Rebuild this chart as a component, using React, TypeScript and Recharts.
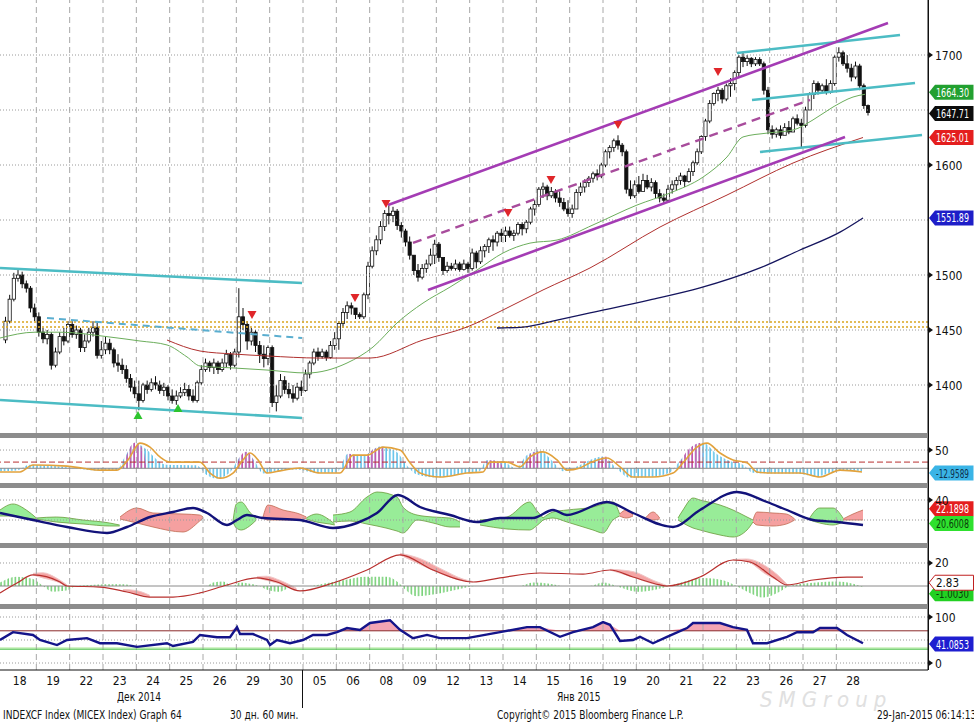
import React from 'react';
import {
  Area,
  Bar,
  ComposedChart,
  Line,
  ReferenceArea,
  ReferenceDot,
  ReferenceLine,
  XAxis,
  YAxis,
} from 'recharts';

// ---- layout ----
const CHART_W = 974;
const AXIS_W = 46;
const FONT = '"DejaVu Sans Condensed", "DejaVu Sans", sans-serif';
const X_DOMAIN: [number, number] = [-0.09, 27.75]; // x in trading days
const M0 = { top: 0, right: 0, bottom: 0, left: 0 };

// ---- axis labels ----
const dayLabels = [
  '18', '19', '22', '23', '24', '25', '26', '29', '30',
  '05', '06', '08', '09', '12', '13', '14', '15', '16', '19', '20', '21', '22', '23', '26', '27', '28',
];
const priceGrid = [1400, 1450, 1500, 1550, 1600, 1650, 1700];
const priceLabels = [1400, 1450, 1500, 1600, 1700];

// ---- hourly candles, 8 per day; open = previous close ----
const firstOpen = 1441;
const closes = [
  1458, 1478, 1497, 1500, 1492, 1488, 1470, 1462,
  1448, 1442, 1446, 1418, 1430, 1444, 1440, 1455,
  1446, 1450, 1434, 1440, 1448, 1452, 1427, 1432,
  1438, 1432, 1420, 1418, 1414, 1406, 1398, 1392,
  1386, 1400, 1396, 1402, 1400, 1395, 1398, 1390,
  1386, 1390, 1393, 1396, 1390, 1386, 1402, 1414,
  1420, 1416, 1420, 1414, 1420, 1428, 1418, 1430,
  1462, 1455, 1440, 1448, 1436, 1428, 1424, 1434,
  1384, 1390, 1404, 1396, 1392, 1388, 1398, 1395,
  1410, 1420, 1430, 1426, 1430, 1425, 1436, 1442,
  1456, 1466, 1472, 1470, 1464, 1462, 1482, 1508,
  1522, 1532, 1544, 1556, 1554, 1558, 1545, 1540,
  1530, 1518, 1504, 1498, 1506, 1510, 1518, 1528,
  1516, 1504, 1508, 1506, 1510, 1505, 1510, 1506,
  1520, 1512, 1522, 1526, 1532, 1530, 1538, 1536,
  1540, 1536, 1538, 1546, 1542, 1548, 1560, 1564,
  1578, 1580, 1572, 1576, 1570, 1566, 1560, 1556,
  1560, 1575, 1580, 1584, 1588, 1592, 1590, 1600,
  1612, 1616, 1622, 1618, 1612, 1578, 1572, 1582,
  1576, 1586, 1580, 1584, 1574, 1570, 1568, 1578,
  1582, 1586, 1590, 1585, 1594, 1602, 1612, 1626,
  1640, 1656, 1665, 1668, 1660, 1672, 1674, 1684,
  1698, 1694, 1697, 1692, 1696, 1692, 1668, 1632,
  1628, 1632, 1627, 1634, 1630, 1642, 1638, 1636,
  1650, 1664, 1674, 1668, 1672, 1666, 1674, 1698,
  1702, 1692, 1688, 1680, 1690, 1672, 1654, 1647.71,
];
const highs = [
  1462, 1482, 1502, 1506, 1503, 1495, 1490, 1474,
  1466, 1452, 1450, 1448, 1434, 1448, 1452, 1458,
  1458, 1454, 1452, 1446, 1452, 1458, 1458, 1440,
  1444, 1442, 1434, 1428, 1424, 1418, 1410, 1404,
  1404, 1402, 1404, 1406, 1408, 1404, 1402, 1400,
  1396, 1395, 1398, 1402, 1400, 1396, 1404, 1418,
  1424, 1422, 1424, 1422, 1424, 1432, 1430, 1433,
  1488, 1470, 1458, 1452, 1450, 1440, 1436, 1436,
  1436, 1400, 1410, 1408, 1402, 1400, 1402, 1404,
  1414, 1422, 1433, 1434, 1433, 1432, 1440, 1448,
  1458, 1470, 1476, 1475, 1470, 1466, 1484, 1512,
  1526, 1536, 1549, 1559, 1563, 1562, 1560, 1548,
  1542, 1535, 1518, 1510, 1510, 1514, 1524, 1532,
  1530, 1516, 1512, 1511, 1514, 1512, 1514, 1512,
  1524, 1522, 1526, 1528, 1534, 1536, 1540, 1542,
  1544, 1544, 1541, 1548, 1548, 1550, 1562, 1568,
  1580, 1584, 1582, 1580, 1578, 1576, 1570, 1568,
  1564, 1578, 1584, 1587, 1590, 1594, 1596, 1602,
  1614, 1618, 1624, 1627, 1620, 1614, 1586, 1586,
  1590, 1592, 1591, 1588, 1586, 1578, 1574, 1582,
  1586, 1589, 1593, 1591, 1597, 1604, 1615, 1627,
  1642, 1659, 1666, 1671, 1670, 1674, 1679, 1686,
  1700, 1703, 1700, 1698, 1698, 1698, 1694, 1671,
  1636, 1634, 1636, 1638, 1640, 1644, 1646, 1642,
  1653, 1666, 1677, 1676, 1674, 1678, 1677, 1700,
  1707, 1704, 1700, 1692, 1694, 1692, 1674, 1655,
];
const lows = [
  1438, 1456, 1476, 1494, 1488, 1484, 1466, 1458,
  1444, 1438, 1437, 1414, 1416, 1428, 1436, 1438,
  1443, 1442, 1430, 1430, 1438, 1444, 1424, 1424,
  1428, 1428, 1416, 1412, 1410, 1402, 1394, 1388,
  1377, 1384, 1392, 1394, 1396, 1392, 1390, 1386,
  1383, 1382, 1388, 1390, 1386, 1384, 1384, 1400,
  1412, 1412, 1410, 1410, 1412, 1416, 1414, 1416,
  1425, 1450, 1432, 1436, 1430, 1420, 1416, 1418,
  1380, 1376, 1388, 1392, 1388, 1384, 1386, 1390,
  1394, 1406, 1418, 1422, 1424, 1422, 1424, 1432,
  1432, 1452, 1460, 1464, 1460, 1460, 1460, 1478,
  1506, 1518, 1528, 1540, 1546, 1548, 1541, 1534,
  1526, 1514, 1500, 1494, 1496, 1502, 1508, 1510,
  1512, 1500, 1502, 1504, 1504, 1503, 1504, 1502,
  1504, 1506, 1510, 1516, 1520, 1522, 1526, 1530,
  1530, 1534, 1531, 1536, 1536, 1538, 1546, 1554,
  1562, 1570, 1568, 1570, 1566, 1562, 1558, 1553,
  1552, 1560, 1572, 1575, 1580, 1584, 1586, 1588,
  1598, 1606, 1612, 1614, 1608, 1574, 1569, 1570,
  1574, 1578, 1578, 1576, 1570, 1566, 1565, 1566,
  1574, 1577, 1582, 1580, 1584, 1590, 1600, 1610,
  1622, 1638, 1654, 1658, 1656, 1658, 1662, 1668,
  1680, 1689, 1690, 1689, 1690, 1690, 1664, 1628,
  1624, 1625, 1624, 1628, 1628, 1630, 1636, 1616,
  1634, 1650, 1660, 1664, 1666, 1664, 1665, 1672,
  1694, 1690, 1684, 1676, 1678, 1668, 1651, 1645,
];

// ---- moving averages [day, price] ----
const maGreen = [
  [-0.09, 1442.7], [0.96, 1448], [1.71, 1448], [3.21, 1443.6], [4.11, 1440], [4.92, 1436.4],
  [5.52, 1425.5], [5.91, 1417.3], [6.9, 1415.5], [7.92, 1413.6], [9.12, 1410.9], [10.32, 1420],
  [11.1, 1434.5], [11.82, 1456.4], [12.6, 1474.5], [13.41, 1489], [14.22, 1504.5], [15, 1520],
  [15.81, 1529], [16.62, 1531.8], [17.7, 1545.5], [19.02, 1563.6], [20.01, 1574.5], [21, 1589],
  [21.72, 1607.3], [22.2, 1625.5], [22.92, 1629], [23.7, 1631.8], [24.3, 1641], [24.9, 1652.7],
  [25.5, 1661.8], [25.86, 1664.3],
];
const maRed = [
  [4.92, 1440.9], [5.91, 1430.9], [6.9, 1428.2], [7.92, 1426.4], [9.51, 1424.5], [11.01, 1424.5],
  [12.6, 1440.9], [13.92, 1452.7], [15, 1468.2], [16.2, 1486.4], [17.61, 1506.4], [19.71, 1543.6],
  [21.72, 1572.7], [23.7, 1601.8], [25.8, 1625],
];
const maNavy = [
  [14.82, 1451.8], [15.6, 1452.7], [16.62, 1459], [17.61, 1465.5], [19.41, 1477.3], [20.91, 1488.2],
  [22.71, 1506.4], [23.91, 1522.7], [25.11, 1539], [25.8, 1551.9],
];

// ---- drawn trend lines [[day, price], [day, price]] ----
const cyanLines = [
  [[-0.09, 1506.4], [8.97, 1492.7]],
  [[-0.09, 1386.4], [8.97, 1370]],
  [[22.02, 1701.8], [26.91, 1718.2]],
  [[22.47, 1659.1], [27.36, 1674.5]],
  [[22.71, 1611.8], [27.57, 1627.3]],
];
const cyanDashedLines = [[[1.32, 1460.9], [8.97, 1442.7]]];
const purpleLines = [
  [[11.55, 1563.6], [26.55, 1729.1]],
  [[12.75, 1486.4], [25.26, 1625.5]],
];
const purpleDashedLines = [[[12.3, 1529.1], [24.21, 1659.1]]];
const levelLines = [1457.3, 1452.7];

// ---- signal markers [day, price] ----
const sellMarks = [
  [7.47, 1463.6], [10.56, 1479.1], [11.49, 1564.5], [15.15, 1556.4],
  [16.44, 1586.4], [18.45, 1636.4], [21.45, 1684.5],
];
const buyMarks = [[4.05, 1372.7], [5.25, 1379.1]];

// ---- panel 2: oscillator ----
const oscLine = [
  [-0.09, -10], [0.51, -10], [0.9, 9], [1.92, 6], [2.4, 0], [2.91, -5], [3.42, -5], [3.75, 23],
  [4.11, 69], [4.41, 58], [4.71, 31], [5.01, 17], [5.91, 17], [6.21, -13], [6.51, -27], [6.9, -13],
  [7.2, 23], [7.41, 42], [7.65, 23], [7.92, -13], [8.31, -7], [8.91, 1], [9.51, -13], [10.11, -13],
  [10.5, 36], [10.92, 36], [11.4, 58], [11.91, 50], [12.21, 15], [12.51, -13], [13.11, -24],
  [13.92, -13], [14.4, -10], [14.61, 17], [15.12, 17], [15.51, 4], [15.81, 31], [16.2, 45],
  [16.62, 23], [16.92, -5], [17.31, 1], [17.61, 15], [18.12, 28], [18.51, 4], [18.9, -24],
  [19.5, -24], [20.1, -13], [20.4, 15], [20.82, 58], [21.12, 69], [21.51, 42], [21.9, 23],
  [22.32, 15], [22.62, -10], [23.1, -13], [23.91, -13], [24.51, -24], [25.11, -5], [25.77, -10],
];
const oscHist = [
  [-0.09, -8], [0.4, -6], [0.8, 10], [1.8, 4], [2.3, -2], [2.8, -6], [3.4, -6], [3.65, 30],
  [3.95, 70], [4.3, 52], [4.6, 25], [4.9, 10], [5.8, 8], [6.1, -18], [6.4, -28], [6.8, -12],
  [7.1, 30], [7.3, 45], [7.55, 20], [7.8, -14], [8.2, -8], [8.8, -3], [9.4, -12], [10, -12],
  [10.35, 40], [10.8, 35], [11.3, 60], [11.8, 45], [12.1, 10], [12.4, -16], [13, -25], [13.8, -14],
  [14.3, -8], [14.5, 22], [15, 18], [15.4, 0], [15.7, 35], [16.1, 48], [16.5, 18], [16.8, -8],
  [17.2, 4], [17.5, 18], [18, 32], [18.4, 0], [18.8, -26], [19.4, -24], [20, -12], [20.3, 20],
  [20.7, 62], [21, 70], [21.4, 40], [21.8, 20], [22.2, 10], [22.5, -12], [23, -14], [23.8, -14],
  [24.4, -22], [25, -8], [25.5, -6], [25.77, -8],
];
const oscPink = [
  [[3.6, 0], [3.7, 32], [3.95, 70], [4.2, 52], [4.3, 0]],
  [[6.98, 0], [7.1, 30], [7.3, 45], [7.5, 24], [7.56, 0]],
  [[10.28, 0], [10.35, 40], [10.55, 34], [10.6, 0]],
  [[10.85, 0], [10.95, 38], [11.2, 55], [11.4, 58], [11.45, 0]],
  [[14.5, 0], [14.55, 22], [14.9, 18], [15, 0]],
  [[15.68, 0], [15.75, 34], [16.05, 46], [16.1, 0]],
  [[17.8, 0], [17.9, 26], [18.1, 32], [18.18, 0]],
  [[20.25, 0], [20.35, 22], [20.7, 62], [20.95, 70], [21, 0]],
];

// ---- panel 3: directional lines and cloud [day, low, high] ----
const dirLine = [
  [-0.09, 27], [0.9, 20], [1.92, 13], [3.12, 7], [3.72, 13], [4.41, 23], [5.1, 28], [5.7, 32],
  [6.12, 27], [6.72, 15], [7.02, 20], [7.32, 25], [7.8, 22], [8.91, 20], [9.9, 12], [10.62, 17],
  [11.22, 27], [11.85, 45], [12.51, 33], [13.41, 25], [14.22, 18], [14.91, 22], [15.9, 22],
  [16.5, 30], [16.92, 25], [18.12, 38], [18.9, 27], [20.1, 13], [20.91, 30], [22.02, 48],
  [22.92, 38], [23.52, 30], [24.3, 20], [25.02, 18], [25.8, 15],
];
const cloudGreen = [
  [[-0.09, 24, 30], [0.3, 24, 36], [0.7, 22, 30], [1, 21, 22]],
  [[1, 21, 22], [1.6, 18, 23], [2.4, 16, 20], [3.2, 14, 17], [3.5, 14, 15]],
  [[6.9, 18, 19], [7, 12, 36], [7.15, 10, 38], [7.4, 14, 28], [7.6, 20, 21]],
  [[9.1, 21, 22], [9.4, 18, 26], [9.8, 16, 20], [9.95, 15, 16]],
  [[9.9, 18, 25], [10.41, 19, 28], [10.92, 16, 43], [11.22, 14, 48], [11.82, 9, 43], [12, 7, 33],
    [12.42, 20, 25], [12.9, 17, 23], [13.41, 13, 22], [13.71, 13, 18]],
  [[14.31, 15, 20], [15.12, 11, 23], [15.8, 10, 38], [16, 14, 30], [16.2, 20, 22]],
  [[16.2, 20, 22], [16.5, 22, 28], [16.92, 18, 30], [17.7, 10, 33], [18, 7, 36], [18.3, 20, 38], [18.5, 24, 26]],
  [[20.25, 20, 22], [20.4, 17, 30], [20.7, 12, 42], [20.91, 10, 40], [21.51, 5, 35], [21.9, 3, 30],
    [22.32, 10, 23], [22.5, 18, 20]],
  [[24.2, 20, 22], [24.5, 17, 32], [24.9, 15, 32], [25.2, 18, 22]],
];
const cloudRed = [
  [[3.51, 21, 23], [4.02, 17, 32], [4.5, 13, 27], [5.4, 8, 26], [5.9, 19, 25], [6, 22, 23]],
  [[7.8, 22, 23], [7.95, 20, 35], [8.4, 20, 30], [8.9, 20, 26], [9.1, 22, 23]],
  [[18.5, 24, 26], [18.7, 22, 30], [18.9, 24, 25]],
  [[19.3, 22, 23], [19.5, 20, 28], [19.7, 21, 22]],
  [[22.5, 18, 20], [22.62, 15, 28], [23.1, 14, 27], [23.5, 16, 26], [23.75, 20, 21]],
  [[25.2, 20, 21], [25.5, 20, 26], [25.8, 20, 30]],
];

// ---- panel 4: trend oscillator ----
const trendLine = [
  [-0.09, -6], [0.42, 2.6], [0.9, 9.6], [1.71, 3.5], [1.92, 0], [2.91, -0.9], [3.72, -5.2],
  [4.41, -9.6], [5.1, -9.6], [5.91, -6], [6.72, 0.9], [7.62, 7], [8.22, 3.5], [8.91, -4.3],
  [9.9, 2.6], [10.92, 13.9], [11.91, 27], [12.9, 13.9], [14.1, 3.5], [14.91, 7], [16.11, 11.3],
  [17.4, 10.4], [18.21, 13.9], [18.9, 7.8], [19.71, 0.9], [19.92, 0], [20.91, 7.8], [21.9, 22.6],
  [22.41, 20.9], [23.1, 7.8], [23.52, 0.9], [24.3, 5.2], [25.32, 7.8], [25.8, 7.8],
];
const trendPink = [
  [[0.9, 9.6, 11], [1.2, 7, 11.5], [1.6, 4, 7], [1.92, 0, 1]],
  [[3.6, -4, -3], [4, -7, -4], [4.4, -9.6, -8]],
  [[7.62, 7, 8], [7.9, 5, 8.5], [8.3, 2, 5], [8.8, -3, -2]],
  [[11.91, 27, 28.5], [12.5, 19, 24], [13.2, 10, 14], [13.8, 4.5, 6], [14.1, 3.5, 3.8]],
  [[18.21, 13.9, 14.5], [18.9, 7.8, 12.5], [19.5, 2, 5], [19.9, 0, 0.5]],
  [[21.9, 22.6, 23], [22.3, 21.5, 23.5], [22.9, 10, 17], [23.3, 4, 8], [23.52, 0.9, 1.5]],
];
const trendHist = [
  [-0.09, 3], [0.4, 8], [0.9, 6], [1.2, 0], [1.5, -5], [1.9, -4], [2.2, 0], [3.3, 1.5], [3.6, 1.5],
  [4, 0], [6.1, 0], [6.3, 3], [6.6, 4], [6.9, 0], [7.1, 3], [7.4, 2], [7.7, 0], [7.9, -3], [8.3, -5],
  [8.7, 0], [9.2, 0], [9.6, 2], [10.2, 5], [10.9, 8], [11.5, 8], [11.9, 2], [12.1, -4], [12.4, -9],
  [13, -7], [13.8, -2], [14.2, 0], [15.5, 0], [15.9, 3], [16.4, 2], [16.8, 0], [17.6, 0], [18, 3],
  [18.4, 0], [18.6, -2], [19, -5], [19.6, -3], [20, 0], [20.6, 5], [21, 7], [21.6, 5], [22, 0],
  [22.4, -6], [22.8, -10], [23.3, -5], [23.6, 0], [24.4, 3], [25, 4], [25.5, 2], [25.8, -1],
];

// ---- panel 5: RSI ----
const rsi = [
  [-0.09, 50], [0.3, 67], [0.9, 61], [1.11, 50], [1.62, 39], [1.92, 50], [2.52, 54], [2.91, 43],
  [3.42, 43], [4.02, 35], [4.92, 43], [5.1, 37], [5.7, 46], [5.91, 61], [6.42, 56], [6.81, 56],
  [7.02, 78], [7.11, 63], [7.5, 63], [7.92, 50], [8.01, 39], [8.22, 50], [8.61, 43], [9, 50],
  [9.3, 61], [9.72, 61], [10.02, 67], [10.32, 76], [10.71, 72], [11.01, 87], [11.61, 93],
  [11.91, 72], [12.3, 54], [12.72, 61], [13.11, 54], [13.92, 54], [14.91, 67], [15.72, 78],
  [16.11, 78], [16.71, 57], [17.1, 67], [17.7, 78], [18, 89], [18.21, 83], [18.51, 48], [18.9, 50],
  [19.11, 57], [19.5, 43], [19.92, 57], [20.52, 76], [20.7, 87], [21.51, 87], [21.9, 78],
  [22.32, 72], [22.5, 43], [22.92, 43], [23.52, 57], [23.82, 67], [24.3, 67], [24.51, 76],
  [25.02, 76], [25.32, 61], [25.8, 43],
];

// ---------------------------------------------------------------

const candles = closes.map((c, i) => ({
  d: Math.floor(i / 8) + ((i % 8) + 0.5) / 8,
  o: i === 0 ? firstOpen : closes[i - 1],
  h: highs[i],
  l: lows[i],
  c,
  range: [lows[i], highs[i]],
}));

// merge several [day, value] or [day, low, high] lists into one row table
function mergeSeries(series: Record<string, number[][]>) {
  const rows: Record<string, any>[] = [];
  Object.entries(series).forEach(([key, pts]) =>
    pts.forEach((p) => rows.push({ d: p[0], [key]: p.length > 2 ? [p[1], p[2]] : p[1] })),
  );
  return rows.sort((a, b) => a.d - b.d);
}
const segFields = (prefix: string, segs: number[][][]) =>
  Object.fromEntries(segs.map((s, i) => [`${prefix}${i}`, s]));

const mainRows = mergeSeries({ maGreen, maRed, maNavy });
const p2Rows = mergeSeries({ osc: oscLine, hist: oscHist, ...segFields('pk', oscPink) });
const p3Rows = mergeSeries({ dir: dirLine, ...segFields('g', cloudGreen), ...segFields('r', cloudRed) });
const p4Rows = mergeSeries({ trend: trendLine, hist: trendHist, ...segFields('pk', trendPink) });
const p5Rows = mergeSeries({ rsi, rsiHi: rsi.map(([d, v]) => [d, 70, Math.max(v, 70)]) });

function Candle(props: any) {
  const { x, y, width, height, payload } = props;
  if (!payload || payload.o == null || !isFinite(y) || !isFinite(height)) return null;
  const { o, h, l, c } = payload;
  const cx = x + width / 2;
  const top = Math.min(y, y + height);
  const bot = Math.max(y, y + height);
  const py = (v: number) => top + ((h - v) / (h - l || 1)) * (bot - top);
  const bTop = py(Math.max(o, c));
  const bBot = py(Math.min(o, c));
  const up = c >= o;
  return (
    <g>
      <line x1={cx} x2={cx} y1={top} y2={bot} stroke="#111" strokeWidth={1} />
      <rect
        x={cx - 1.6}
        y={bTop}
        width={3.2}
        height={Math.max(bBot - bTop, 1)}
        fill={up ? '#fff' : '#111'}
        stroke="#111"
        strokeWidth={0.8}
      />
    </g>
  );
}

const TriDown = (p: any) => (
  <path d={`M${p.cx - 4.5} ${p.cy - 4} L${p.cx + 4.5} ${p.cy - 4} L${p.cx} ${p.cy + 4} Z`} fill="#e0262a" />
);
const TriUp = (p: any) => (
  <path d={`M${p.cx - 4.5} ${p.cy + 4} L${p.cx + 4.5} ${p.cy + 4} L${p.cx} ${p.cy - 4} Z`} fill="#2ec42e" />
);

// price tag on the right axis
const tagShape = (text: string, bg: string, fg: string, dy = 0, border = 'none') => (p: any) => {
  const x = p.cx + 1;
  const y = p.cy + dy;
  const fit = text.length > 4 ? { textLength: 33, lengthAdjust: 'spacingAndGlyphs' as const } : {};
  return (
    <g>
      <path
        d={`M${x} ${y} L${x + 6} ${y - 7.5} L${CHART_W - 0.5} ${y - 7.5} L${CHART_W - 0.5} ${y + 7.5} L${x + 6} ${y + 7.5} Z`}
        fill={bg}
        stroke={border}
      />
      <text x={x + 7} y={y + 4.5} fill={fg} fontSize={11.5} fontFamily={FONT} {...fit}>
        {text}
      </text>
    </g>
  );
};

const YTick = (props: any) => {
  const { x, y, payload } = props;
  return (
    <g>
      <path d={`M${x} ${y - 3.5} L${x + 5} ${y} L${x} ${y + 3.5} Z`} fill="#111" />
      <text x={x + 7} y={y + 4.5} fontSize={12} fill="#111" fontFamily={FONT}>
        {payload.value}
      </text>
    </g>
  );
};

const XTick = (props: any) => {
  const { x, y, payload } = props;
  return (
    <text x={x} y={y + 15} textAnchor="middle" fontSize={12} fill="#111" fontFamily={FONT}>
      {dayLabels[Math.floor(payload.value)]}
    </text>
  );
};

const dayGrid = () =>
  dayLabels.slice(1).map((_, k) => (
    <ReferenceLine key={`v${k}`} x={k + 1} stroke="#a8a8a8" strokeDasharray="6 4" ifOverflow="visible" />
  ));
const hGrid = (values: number[], color = '#9a9a9a', dash = '1 2') =>
  values.map((v) => <ReferenceLine key={`h${v}`} y={v} stroke={color} strokeDasharray={dash} ifOverflow="visible" />);

const hiddenX = <XAxis type="number" dataKey="d" domain={X_DOMAIN} allowDataOverflow hide />;
const rightY = (domain: [number, number], ticks: number[]) => (
  <YAxis
    orientation="right"
    width={AXIS_W}
    domain={domain}
    allowDataOverflow
    ticks={ticks}
    interval={0}
    tick={<YTick />}
    tickSize={0}
    tickMargin={0}
    tickLine={false}
    axisLine={{ stroke: '#111' }}
  />
);

const MAIN_DOMAIN: [number, number] = [1750 - 433 / 1.1, 1750];
const P2_DOMAIN: [number, number] = [-40.3, 83];
const P3_DOMAIN: [number, number] = [-3, 52];
const P4_DOMAIN: [number, number] = [-15.65, 33.04];
const P5_DOMAIN: [number, number] = [-15.2, 117.4];

const seg = (pts: number[][]) => [
  { x: pts[0][0], y: pts[0][1] },
  { x: pts[1][0], y: pts[1][1] },
];

const hatch = (id: string, color: string) => (
  <pattern id={id} width="3.6" height="6" patternUnits="userSpaceOnUse">
    <line x1="1" y1="0" x2="1" y2="6" stroke={color} strokeWidth="1.3" />
  </pattern>
);

const abs = (top: number, extra: React.CSSProperties = {}): React.CSSProperties => ({
  position: 'absolute',
  left: 0,
  top,
  ...extra,
});

// narrow footer text, squeezed horizontally like the terminal font
const textStyle: React.CSSProperties = {
  position: 'absolute',
  fontFamily: FONT,
  fontSize: 12,
  color: '#111',
  whiteSpace: 'nowrap',
  lineHeight: '14px',
  transform: 'scaleX(0.84)',
  transformOrigin: 'left top',
};

export default function App() {
  return (
    <div style={{ position: 'relative', width: CHART_W, height: 723, background: '#fff', overflow: 'hidden' }}>
      <style>{'body{margin:0;background:#fff}'}</style>

      {/* main price panel: candles */}
      <div style={abs(0)}>
        <ComposedChart width={CHART_W} height={433} data={candles} margin={M0}>
          {hiddenX}
          {rightY(MAIN_DOMAIN, priceLabels)}
          {dayGrid()}
          {hGrid(priceGrid)}
          {levelLines.map((v) => (
            <ReferenceLine key={`l${v}`} y={v} stroke="#d9a520" strokeDasharray="2 2" strokeWidth={1.4} />
          ))}
          <Bar dataKey="range" barSize={3} shape={<Candle />} isAnimationActive={false} />
        </ComposedChart>
      </div>

      {/* main price panel: averages, trend lines, markers, tags */}
      <div style={abs(0, { pointerEvents: 'none' })}>
        <ComposedChart width={CHART_W} height={433} data={mainRows} margin={{ ...M0, right: AXIS_W }}>
          {hiddenX}
          <YAxis domain={MAIN_DOMAIN} allowDataOverflow hide />
          <Line dataKey="maGreen" type="monotone" stroke="#6cae5c" strokeWidth={1} dot={false} connectNulls isAnimationActive={false} />
          <Line dataKey="maRed" type="monotone" stroke="#b0302e" strokeWidth={1} dot={false} connectNulls isAnimationActive={false} />
          <Line dataKey="maNavy" type="monotone" stroke="#15155e" strokeWidth={1.3} dot={false} connectNulls isAnimationActive={false} />
          {cyanLines.map((l, i) => (
            <ReferenceLine key={`c${i}`} segment={seg(l)} stroke="#4cbcc4" strokeWidth={2.6} ifOverflow="visible" />
          ))}
          {cyanDashedLines.map((l, i) => (
            <ReferenceLine key={`cd${i}`} segment={seg(l)} stroke="#5aaed0" strokeWidth={2} strokeDasharray="7 5" ifOverflow="visible" />
          ))}
          {purpleLines.map((l, i) => (
            <ReferenceLine key={`p${i}`} segment={seg(l)} stroke="#a43cb4" strokeWidth={2.6} ifOverflow="visible" />
          ))}
          {purpleDashedLines.map((l, i) => (
            <ReferenceLine key={`pd${i}`} segment={seg(l)} stroke="#a84c9c" strokeWidth={2.4} strokeDasharray="9 6" ifOverflow="visible" />
          ))}
          {sellMarks.map(([d, v]) => (
            <ReferenceDot key={`s${d}`} x={d} y={v} r={4} shape={TriDown} ifOverflow="visible" />
          ))}
          {buyMarks.map(([d, v]) => (
            <ReferenceDot key={`b${d}`} x={d} y={v} r={4} shape={TriUp} ifOverflow="visible" />
          ))}
          <ReferenceDot x={X_DOMAIN[1]} y={1664.3} shape={tagShape('1664.30', '#22a030', '#fff', -2)} ifOverflow="visible" />
          <ReferenceDot x={X_DOMAIN[1]} y={1647.71} shape={tagShape('1647.71', '#0c0c0c', '#fff', 1)} ifOverflow="visible" />
          <ReferenceDot x={X_DOMAIN[1]} y={1625.01} shape={tagShape('1625.01', '#e41e1e', '#fff')} ifOverflow="visible" />
          <ReferenceDot x={X_DOMAIN[1]} y={1551.89} shape={tagShape('1551.89', '#1e1ec8', '#fff')} ifOverflow="visible" />
        </ComposedChart>
      </div>

      {/* panel 2: oscillator histogram */}
      <div style={abs(438)}>
        <ComposedChart width={CHART_W} height={45} data={p2Rows} margin={M0}>
          <defs>
            {hatch('hatchCyan', '#3fb4e4')}
            {hatch('hatchPink', '#e03c9c')}
          </defs>
          {hiddenX}
          {rightY(P2_DOMAIN, [50])}
          {dayGrid()}
          {hGrid([50])}
          <ReferenceLine y={0} stroke="#8a8a8a" />
          <ReferenceLine y={17} stroke="#b83030" strokeDasharray="6 3" />
          <Area dataKey="hist" type="monotone" baseValue={0} fill="url(#hatchCyan)" fillOpacity={1} stroke="none" connectNulls isAnimationActive={false} />
          {oscPink.map((_, i) => (
            <Area key={`pk${i}`} dataKey={`pk${i}`} type="monotone" baseValue={0} fill="url(#hatchPink)" fillOpacity={1} stroke="none" connectNulls isAnimationActive={false} />
          ))}
          <Line dataKey="osc" type="monotone" stroke="#e2a23c" strokeWidth={1.6} dot={false} connectNulls isAnimationActive={false} />
          <ReferenceDot x={X_DOMAIN[1]} y={-12.9589} shape={tagShape('-12.9589', '#3ab4e6', '#10304a')} ifOverflow="visible" />
        </ComposedChart>
      </div>

      {/* panel 3: directional cloud */}
      <div style={abs(488)}>
        <ComposedChart width={CHART_W} height={55} data={p3Rows} margin={M0}>
          {hiddenX}
          {rightY(P3_DOMAIN, [40])}
          {dayGrid()}
          {hGrid([40, 20])}
          {cloudGreen.map((_, i) => (
            <Area key={`g${i}`} dataKey={`g${i}`} type="monotone" fill="#98ec98" fillOpacity={1} stroke="#6a9a3a" strokeWidth={0.8} connectNulls isAnimationActive={false} />
          ))}
          {cloudRed.map((_, i) => (
            <Area key={`r${i}`} dataKey={`r${i}`} type="monotone" fill="#f5a0a0" fillOpacity={1} stroke="#c06a50" strokeWidth={0.8} connectNulls isAnimationActive={false} />
          ))}
          <Line dataKey="dir" type="monotone" stroke="#12127a" strokeWidth={2.4} dot={false} connectNulls isAnimationActive={false} />
          <ReferenceDot x={X_DOMAIN[1]} y={22.1898} shape={tagShape('22.1898', '#e41e1e', '#fff', -9)} ifOverflow="visible" />
          <ReferenceDot x={X_DOMAIN[1]} y={20.6008} shape={tagShape('20.6008', '#2ee02e', '#0a3a0a', 4)} ifOverflow="visible" />
        </ComposedChart>
      </div>

      {/* panel 4: trend oscillator */}
      <div style={abs(548)}>
        <ComposedChart width={CHART_W} height={56} data={p4Rows} margin={M0}>
          <defs>{hatch('hatchGreen', '#5cc85c')}</defs>
          {hiddenX}
          {rightY(P4_DOMAIN, [20])}
          {dayGrid()}
          {hGrid([20])}
          <ReferenceLine y={0} stroke="#8a8a8a" />
          <Area dataKey="hist" type="monotone" baseValue={0} fill="url(#hatchGreen)" fillOpacity={1} stroke="none" connectNulls isAnimationActive={false} />
          {trendPink.map((_, i) => (
            <Area key={`pk${i}`} dataKey={`pk${i}`} type="monotone" fill="#f4a4a4" fillOpacity={1} stroke="#f0c8c8" strokeWidth={1} connectNulls isAnimationActive={false} />
          ))}
          <Line dataKey="trend" type="monotone" stroke="#b8302e" strokeWidth={1.2} dot={false} connectNulls isAnimationActive={false} />
          <ReferenceDot x={X_DOMAIN[1]} y={2.83} shape={tagShape('-1.0030', '#22d022', '#0a3a0a', 11)} ifOverflow="visible" />
          <ReferenceDot x={X_DOMAIN[1]} y={2.83} shape={tagShape('2.83', '#fff', '#111', 0, '#c02020')} ifOverflow="visible" />
        </ComposedChart>
      </div>

      {/* panel 5: RSI with day axis */}
      <div style={abs(609)}>
        <ComposedChart width={CHART_W} height={99} data={p5Rows} margin={M0}>
          <XAxis
            type="number"
            dataKey="d"
            domain={X_DOMAIN}
            allowDataOverflow
            ticks={dayLabels.map((_, k) => k + 0.5)}
            interval={0}
            height={38}
            tick={<XTick />}
            tickLine={false}
            tickSize={0}
            tickMargin={0}
            axisLine={{ stroke: '#111' }}
          />
          {rightY(P5_DOMAIN, [100, 0])}
          {dayGrid()}
          {hGrid([100, 50, 0])}
          <ReferenceArea y1={30} y2={35} fill="#d4f4c8" fillOpacity={1} stroke="none" />
          <ReferenceLine y={70} stroke="#8a2a2a" />
          <ReferenceLine y={30} stroke="#4cc04c" />
          <Area dataKey="rsiHi" type="linear" fill="#f4a4b4" fillOpacity={1} stroke="none" connectNulls isAnimationActive={false} />
          <Line dataKey="rsi" type="linear" stroke="#14148a" strokeWidth={2.4} dot={false} connectNulls isAnimationActive={false} />
          <ReferenceDot x={X_DOMAIN[1]} y={41.0853} shape={tagShape('41.0853', '#1e1ed0', '#fff')} ifOverflow="visible" />
        </ComposedChart>
      </div>

      {/* panel separators and right axis line */}
      {[433, 483, 543, 604].map((t) => (
        <div key={t} style={{ position: 'absolute', left: 0, top: t, width: 928, height: 5, background: '#8c8c8c' }} />
      ))}
      <div style={{ position: 'absolute', left: 928, top: 0, width: 1, height: 670, background: '#111' }} />
      <div style={{ position: 'absolute', left: 302, top: 670, width: 1, height: 38, background: '#111' }} />

      {/* month labels, watermark and footer */}
      <div style={{ ...textStyle, left: 117, top: 690 }}>Дек 2014</div>
      <div style={{ ...textStyle, left: 557, top: 690 }}>Янв 2015</div>
      <div
        style={{
          ...textStyle,
          left: 760,
          top: 689,
          fontSize: 22,
          lineHeight: '22px',
          color: '#e0e0e0',
          fontStyle: 'italic',
          letterSpacing: 6,
          transform: 'none',
        }}
      >
        SMGroup
      </div>
      <div style={{ ...textStyle, left: 3, top: 708 }}>INDEXCF Index (MICEX Index) Graph 64</div>
      <div style={{ ...textStyle, left: 230, top: 708 }}>30 дн. 60 мин.</div>
      <div style={{ ...textStyle, left: 497, top: 708 }}>Copyright© 2015 Bloomberg Finance L.P.</div>
      <div style={{ ...textStyle, left: 877, top: 708 }}>29-Jan-2015 06:14:13</div>
    </div>
  );
}
